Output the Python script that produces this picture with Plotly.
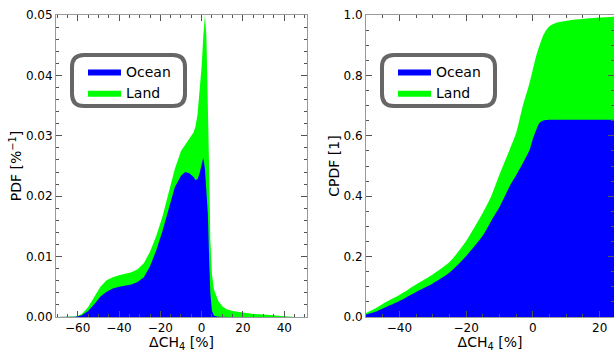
import plotly.graph_objects as go

# ---------------- data ----------------
pdf_x = [-70.5, -64, -61, -58, -55, -52, -49, -46, -43, -40, -37, -34, -31, -28, -25,
         -22, -19, -16, -13, -10, -8, -6, -4, -3, -2, -1, 0, 0.8, 1.6, 2.3, 3.0, 3.6,
         4.2, 5, 6, 8, 10, 12, 15, 20, 25, 30, 36, 42, 46, 51]
pdf_total = [0, 0, 0.0001, 0.0005, 0.0016, 0.0033, 0.0050, 0.0061, 0.0066, 0.0069, 0.0071,
             0.0074, 0.0079, 0.0089, 0.0108, 0.0134, 0.0166, 0.0205, 0.0245, 0.0275, 0.0286,
             0.0295, 0.0305, 0.0315, 0.0335, 0.0370, 0.0415, 0.0465, 0.0500, 0.0465, 0.0370,
             0.0250, 0.0130, 0.0070, 0.0045, 0.0027, 0.0018, 0.0013, 0.0010, 0.0007, 0.0005,
             0.0004, 0.0002, 0.0001, 0.0, 0.0]
pdf_ocean = [0, 0, 0.00005, 0.0003, 0.0010, 0.0021, 0.0034, 0.0042, 0.0047, 0.0050, 0.0052,
             0.0054, 0.0058, 0.0066, 0.0084, 0.0110, 0.0142, 0.0180, 0.0215, 0.0234, 0.0240,
             0.0238, 0.0232, 0.0227, 0.0228, 0.0238, 0.0252, 0.0264, 0.0245, 0.0215, 0.0170,
             0.0100, 0.0040, 0.0010, 0.0002, 0.00003, 0, 0, 0, 0, 0, 0, 0, 0, 0, 0]

cdf_x = [-50, -47, -44, -40, -35, -30, -25, -20, -15, -12.5, -10, -7, -5, -3, -1, 0, 1, 2,
         3, 4, 5, 7, 10, 13, 18, 24.3]
cdf_total = [0.013, 0.030, 0.050, 0.073, 0.108, 0.141, 0.182, 0.252, 0.345, 0.40, 0.472,
             0.553, 0.61, 0.70, 0.775, 0.82, 0.865, 0.90, 0.93, 0.95, 0.963, 0.974, 0.981,
             0.985, 0.99, 0.994]
cdf_ocean = [0.008, 0.018, 0.033, 0.053, 0.083, 0.111, 0.147, 0.202, 0.270, 0.318, 0.364,
             0.432, 0.47, 0.51, 0.553, 0.59, 0.62, 0.643, 0.65, 0.652, 0.653, 0.653, 0.653,
             0.653, 0.653, 0.653]

series_names = ["Ocean", "Land"]
colors = {"Ocean": "#0000ff", "Land": "#00ff00"}

pdf_xticks = [-60, -40, -20, 0, 20, 40]
pdf_yticks = [0.00, 0.01, 0.02, 0.03, 0.04, 0.05]
cdf_xticks = [-40, -20, 0, 20]
cdf_yticks = [0.0, 0.2, 0.4, 0.6, 0.8, 1.0]

# ---------------- layout geometry ----------------
W, H = 614, 352
ML, MT, MR, MB = 56, 15, 0, 35
PW, PH = W - ML - MR, H - MT - MB


def px(x):
    return (x - ML) / PW


def py(y):
    return (H - MB - y) / PH


FONT = "DejaVu Sans"

fig = go.Figure()

# left: PDF (Land stacked on Ocean -> total drawn first, ocean on top)
fig.add_trace(go.Scatter(x=pdf_x, y=pdf_total, name="Land", mode="lines", fill="tozeroy",
                         line=dict(width=0, color=colors["Land"]), fillcolor=colors["Land"],
                         xaxis="x", yaxis="y", legend="legend", legendrank=2))
fig.add_trace(go.Scatter(x=pdf_x, y=pdf_ocean, name="Ocean", mode="lines", fill="tozeroy",
                         line=dict(width=0, color=colors["Ocean"]), fillcolor=colors["Ocean"],
                         xaxis="x", yaxis="y", legend="legend", legendrank=1))
# right: CPDF
fig.add_trace(go.Scatter(x=cdf_x, y=cdf_total, name="Land", mode="lines", fill="tozeroy",
                         line=dict(width=0, color=colors["Land"], shape="spline", smoothing=0.7),
                         fillcolor=colors["Land"],
                         xaxis="x2", yaxis="y2", legend="legend2", legendrank=2))
fig.add_trace(go.Scatter(x=cdf_x, y=cdf_ocean, name="Ocean", mode="lines", fill="tozeroy",
                         line=dict(width=0, color=colors["Ocean"], shape="spline", smoothing=0.7),
                         fillcolor=colors["Ocean"],
                         xaxis="x2", yaxis="y2", legend="legend2", legendrank=1))

axis_common = dict(showgrid=False, zeroline=False, showline=True, linecolor="#999999",
                   linewidth=1, mirror="ticks", ticks="inside", ticklen=6, tickwidth=1,
                   tickcolor="#555555", tickfont=dict(family=FONT, size=12, color="black"),
                   title_font=dict(family=FONT, size=14, color="black"))

fig.update_layout(
    width=W, height=H, margin=dict(l=ML, r=MR, t=MT, b=MB),
    paper_bgcolor="white", plot_bgcolor="white",
    xaxis=dict(axis_common, domain=[0, px(307)], range=[-70.5, 51], tickvals=pdf_xticks,
               minor=dict(ticks="inside", dtick=5, tick0=0, ticklen=3, tickcolor="#555555"),
               title=dict(text="ΔCH<sub>4</sub> [%]", standoff=4), anchor="y"),
    yaxis=dict(axis_common, domain=[0, 1], range=[0, 0.05], tickvals=pdf_yticks,
               tickformat=".2f",
               minor=dict(ticks="inside", dtick=0.002, tick0=0, ticklen=3, tickcolor="#555555"),
               title=dict(text="PDF [%<sup>−1</sup>]", standoff=0), anchor="x"),
    xaxis2=dict(axis_common, domain=[px(366), 1], range=[-50, 24.3], tickvals=cdf_xticks,
                minor=dict(ticks="inside", dtick=5, tick0=0, ticklen=3, tickcolor="#555555"),
                title=dict(text="ΔCH<sub>4</sub> [%]", standoff=4), anchor="y2"),
    yaxis2=dict(axis_common, domain=[0, 1], range=[0, 1.0], tickvals=cdf_yticks,
                tickformat=".1f",
                minor=dict(ticks="inside", dtick=0.05, tick0=0, ticklen=3, tickcolor="#555555"),
                title=dict(text="CPDF [1]", standoff=0), anchor="x2"),
    legend=dict(x=px(83), y=py(56), xanchor="left", yanchor="top", bgcolor="rgba(0,0,0,0)",
                borderwidth=0, itemwidth=33, font=dict(family=FONT, size=14, color="black"),
                tracegroupgap=0),
    legend2=dict(x=px(393), y=py(56), xanchor="left", yanchor="top", bgcolor="rgba(0,0,0,0)",
                 borderwidth=0, itemwidth=33, font=dict(family=FONT, size=14, color="black"),
                 tracegroupgap=0),
    showlegend=True,
)


def rounded_box(x0, y0, x1, y1, r):
    pts = [
        f"M{px(x0 + r)},{py(y0)}", f"L{px(x1 - r)},{py(y0)}",
        f"Q{px(x1)},{py(y0)} {px(x1)},{py(y0 + r)}", f"L{px(x1)},{py(y1 - r)}",
        f"Q{px(x1)},{py(y1)} {px(x1 - r)},{py(y1)}", f"L{px(x0 + r)},{py(y1)}",
        f"Q{px(x0)},{py(y1)} {px(x0)},{py(y1 - r)}", f"L{px(x0)},{py(y0 + r)}",
        f"Q{px(x0)},{py(y0)} {px(x0 + r)},{py(y0)}", "Z",
    ]
    return dict(type="path", xref="paper", yref="paper", path=" ".join(pts),
                line=dict(color="#666666", width=4), fillcolor="white", layer="above")


fig.add_shape(rounded_box(72, 55, 185, 106, 12))
fig.add_shape(rounded_box(382, 55, 495, 106, 12))

fig.write_html("out.html")
